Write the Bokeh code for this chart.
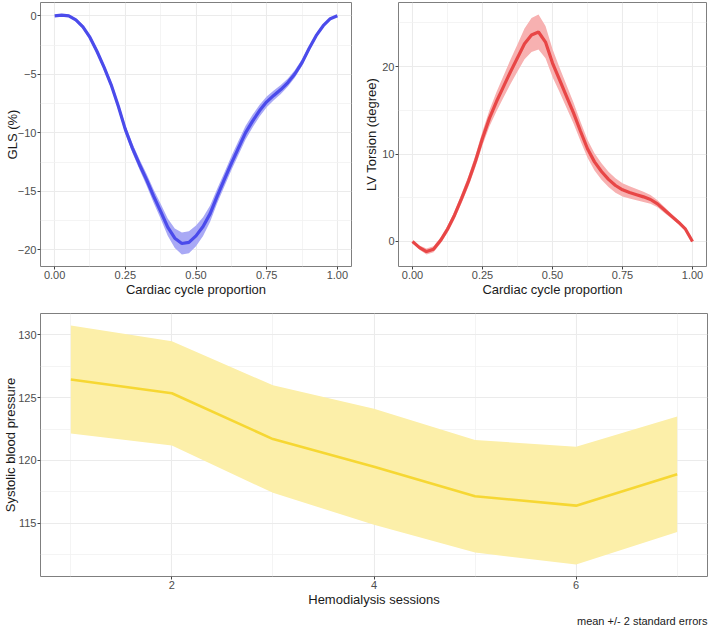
from bokeh.plotting import figure
from bokeh.layouts import column, row
from bokeh.models import Range1d, FixedTicker, NumeralTickFormatter, Title
from bokeh.embed import file_html
from bokeh.resources import INLINE

FONT = "Liberation Sans"

# ---------------- data ----------------
cycle_x = [0.0, 0.025, 0.05, 0.075, 0.1, 0.125, 0.15, 0.175, 0.2, 0.225,
           0.25, 0.275, 0.3, 0.325, 0.35, 0.375, 0.4, 0.425, 0.45, 0.475,
           0.5, 0.525, 0.55, 0.575, 0.6, 0.625, 0.65, 0.675, 0.7, 0.725,
           0.75, 0.775, 0.8, 0.825, 0.85, 0.875, 0.9, 0.925, 0.95, 0.975, 1.0]

gls_mean = [0.0, 0.05, 0.0, -0.35, -0.95, -1.85, -3.05, -4.4, -5.9, -7.7,
            -9.7, -11.3, -12.7, -14.0, -15.4, -16.7, -18.05, -19.0, -19.45, -19.35,
            -18.8, -18.0, -16.9, -15.4, -14.0, -12.6, -11.3, -10.0, -9.0, -8.1,
            -7.35, -6.8, -6.3, -5.7, -4.95, -4.0, -2.8, -1.7, -0.85, -0.25, 0.0]
gls_se = [0.01, 0.03, 0.05, 0.06, 0.08, 0.1, 0.12, 0.13, 0.14, 0.16,
          0.18, 0.2, 0.22, 0.25, 0.28, 0.32, 0.37, 0.42, 0.47, 0.47,
          0.44, 0.4, 0.35, 0.31, 0.3, 0.3, 0.3, 0.29, 0.27, 0.25,
          0.23, 0.21, 0.19, 0.17, 0.16, 0.14, 0.11, 0.09, 0.06, 0.04, 0.01]

torsion_mean = [0.0, -0.7, -1.15, -0.9, 0.1, 1.4, 3.0, 4.9, 6.9, 9.2,
                11.8, 14.1, 16.0, 17.7, 19.4, 21.0, 22.6, 23.6, 23.95, 22.8,
                20.4, 18.5, 16.6, 14.7, 12.6, 10.6, 9.1, 8.0, 7.1, 6.4,
                5.9, 5.6, 5.35, 5.1, 4.8, 4.3, 3.6, 2.9, 2.2, 1.4, 0.0]
torsion_se = [0.03, 0.12, 0.17, 0.17, 0.17, 0.2, 0.23, 0.26, 0.3, 0.35,
              0.4, 0.47, 0.55, 0.62, 0.7, 0.78, 0.88, 0.97, 1.0, 0.92,
              0.8, 0.7, 0.65, 0.6, 0.55, 0.52, 0.5, 0.47, 0.44, 0.41,
              0.38, 0.35, 0.32, 0.29, 0.25, 0.2, 0.17, 0.14, 0.11, 0.07, 0.03]

sessions = [1, 2, 3, 4, 5, 6, 7]
sbp_mean = [126.45, 125.35, 121.7, 119.5, 117.15, 116.4, 118.9]
sbp_se = [2.15, 2.075, 2.14, 2.31, 2.24, 2.345, 2.295]

cycle_ticks = [0.0, 0.25, 0.5, 0.75, 1.0]
cycle_minor = [0.125, 0.375, 0.625, 0.875]
gls_ticks = [-20, -15, -10, -5, 0]
gls_minor = [-17.5, -12.5, -7.5, -2.5]
torsion_ticks = [0, 10, 20]
torsion_minor = [5, 15, 25]
session_ticks = [2, 4, 6]
session_minor = [1, 3, 5, 7]
sbp_ticks = [115, 120, 125, 130]
sbp_minor = [112.5, 117.5, 122.5, 127.5]


def band(mean, se):
    lo = [m - 2 * s for m, s in zip(mean, se)]
    hi = [m + 2 * s for m, s in zip(mean, se)]
    return lo, hi


def expand(vals_lo, vals_hi, frac=0.05):
    a, b = min(vals_lo), max(vals_hi)
    d = (b - a) * frac
    return Range1d(a - d, b + d)


def style(p, xt, xm, yt, ym, xlabel, ylabel, ystandoff):
    p.xaxis.ticker = FixedTicker(ticks=xt, minor_ticks=xm)
    p.yaxis.ticker = FixedTicker(ticks=yt, minor_ticks=ym)
    p.outline_line_color = "#7f7f7f"
    p.outline_line_width = 1
    p.background_fill_color = "white"
    p.border_fill_color = "white"
    for g in (p.xgrid[0], p.ygrid[0]):
        g.grid_line_color = "#ebebeb"
        g.grid_line_width = 1.1
        g.minor_grid_line_color = "#f1f1f1"
        g.minor_grid_line_width = 0.8
    for ax in (p.xaxis[0], p.yaxis[0]):
        ax.axis_line_color = None
        ax.minor_tick_line_color = None
        ax.minor_tick_out = 0
        ax.minor_tick_in = 0
        ax.major_tick_line_color = "#444444"
        ax.major_tick_out = 3
        ax.major_tick_in = 0
        ax.major_label_text_font = FONT
        ax.major_label_text_font_size = "11px"
        ax.major_label_text_color = "#4d4d4d"
        ax.axis_label_text_font = FONT
        ax.axis_label_text_font_size = "13px"
        ax.axis_label_text_font_style = "normal"
        ax.axis_label_text_color = "#1a1a1a"
        ax.major_label_standoff = 1
        ax.axis_label_standoff = 0
    p.yaxis[0].axis_label_standoff = ystandoff
    p.xaxis.axis_label = xlabel
    p.yaxis.axis_label = ylabel


# ---------------- GLS ----------------
gls_lo, gls_hi = band(gls_mean, gls_se)
p1 = figure(width=354, height=305, output_backend="svg", toolbar_location=None,
            x_range=Range1d(-0.05, 1.05), y_range=expand(gls_lo, gls_hi),
            min_border_left=40, min_border_right=3, min_border_top=2, min_border_bottom=39)
p1.varea(x=cycle_x, y1=gls_lo, y2=gls_hi, fill_color="#a9a9f5", fill_alpha=1.0)
p1.line(cycle_x, gls_mean, line_color="#4b4beb", line_width=3.2)
style(p1, cycle_ticks, cycle_minor, gls_ticks, gls_minor,
      "Cardiac cycle proportion", "GLS (%)", -5)
p1.xaxis.formatter = NumeralTickFormatter(format="0.00")

# ---------------- LV torsion ----------------
tor_lo, tor_hi = band(torsion_mean, torsion_se)
p2 = figure(width=355, height=305, output_backend="svg", toolbar_location=None,
            x_range=Range1d(-0.05, 1.05), y_range=expand(tor_lo, tor_hi),
            min_border_left=44, min_border_right=3, min_border_top=2, min_border_bottom=39)
p2.varea(x=cycle_x, y1=tor_lo, y2=tor_hi, fill_color="#f7b1b1", fill_alpha=1.0)
p2.line(cycle_x, torsion_mean, line_color="#e84646", line_width=3.2)
style(p2, cycle_ticks, cycle_minor, torsion_ticks, torsion_minor,
      "Cardiac cycle proportion", "LV Torsion (degree)", 0)
p2.xaxis.formatter = NumeralTickFormatter(format="0.00")

# ---------------- SBP ----------------
sbp_lo, sbp_hi = band(sbp_mean, sbp_se)
p3 = figure(width=709, height=327, output_backend="svg", toolbar_location=None,
            x_range=Range1d(0.7, 7.3), y_range=expand(sbp_lo, sbp_hi),
            min_border_left=40, min_border_right=2, min_border_top=8, min_border_bottom=56)
p3.varea(x=sessions, y1=sbp_lo, y2=sbp_hi, fill_color="#fcefa9", fill_alpha=1.0)
p3.line(sessions, sbp_mean, line_color="#f6d733", line_width=2.6)
style(p3, session_ticks, session_minor, sbp_ticks, sbp_minor,
      "Hemodialysis sessions", "Systolic blood pressure", -3)
cap = Title(text="mean +/- 2 standard errors", align="right",
            text_font=FONT, text_font_size="11px", text_font_style="normal",
            text_color="#1a1a1a", standoff=7, offset=0)
p3.add_layout(cap, "below")

layout = column(row(p1, p2), p3)
open("out.html", "w").write(file_html(layout, INLINE))
